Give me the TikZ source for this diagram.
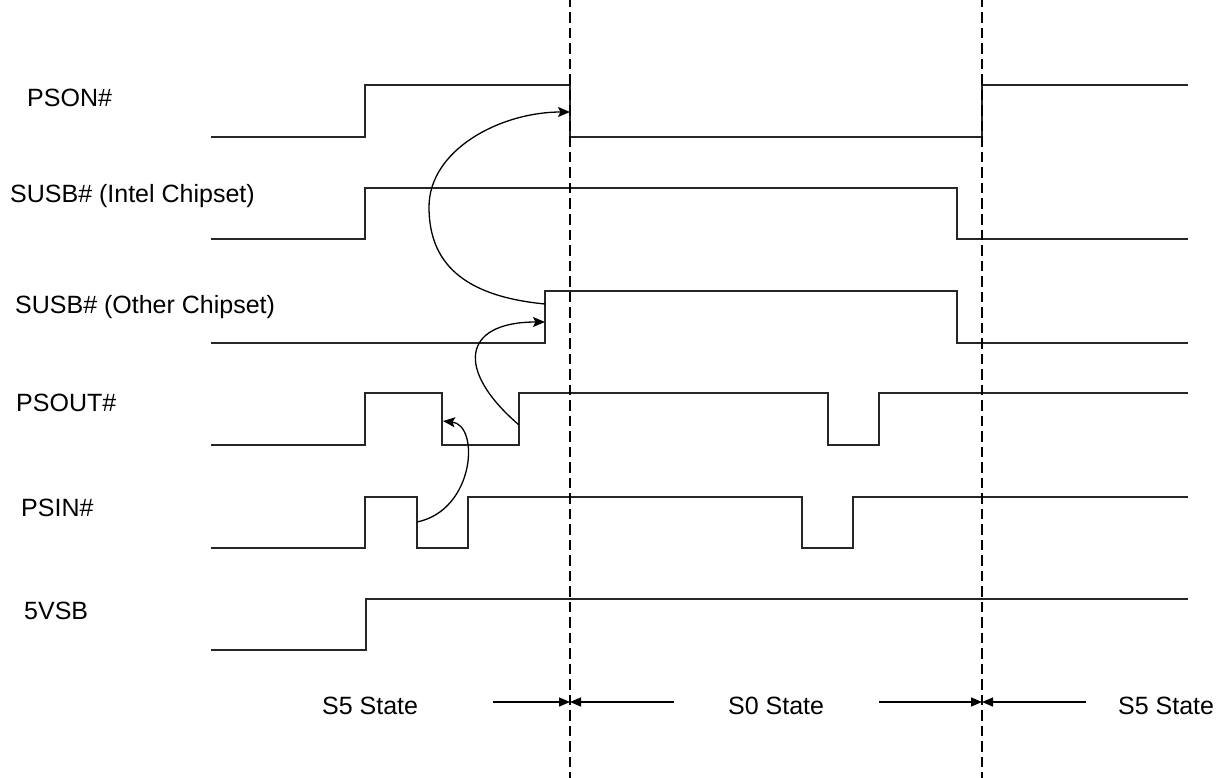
\documentclass[tikz,border=0pt]{standalone}
\usepackage{fontspec}
\setmainfont{Liberation Sans}
\usetikzlibrary{arrows.meta}
\tikzset{
  sig/.style={line width=1.4pt, black!85, line join=miter},
  divider/.style={line width=2.3pt, black, dash pattern=on 10.5pt off 5pt, dash phase=3pt},
  cause/.style={line width=1.3pt, black, -{Stealth[length=12pt,width=10pt,inset=2.5pt]}},
  span/.style={line width=1.3pt, black, -{Triangle[length=11pt,width=9pt]}},
  lbl/.style={anchor=base west, inner sep=0pt, font=\fontsize{25}{29}\selectfont}
}
\begin{document}
\begin{tikzpicture}[x=1pt,y=-1pt]
\useasboundingbox (0,0) rectangle (1228,778);
% signal names
\node[lbl] (nPSON) at (27,107) {PSON\#};
\node[lbl] (nSUSBi) at (10,202.5) {SUSB\# (Intel Chipset)};
\node[lbl] (nSUSBo) at (15,313) {SUSB\# (Other Chipset)};
\node[lbl] (nPSOUT) at (16,411) {PSOUT\#};
\node[lbl] (nPSIN) at (21,516) {PSIN\#};
\node[lbl] (n5VSB) at (24,619) {5VSB};
% waveforms
\draw[sig] (211,137) -- (365,137) -- (365,85) -- (570,85) -- (570,137) -- (982,137) -- (982,85) -- (1188,85);
\draw[sig] (211,239) -- (365,239) -- (365,188) -- (957,188) -- (957,239) -- (1188,239);
\draw[sig] (211,343) -- (545,343) -- (545,291) -- (957,291) -- (957,343) -- (1188,343);
\draw[sig] (211,445) -- (365,445) -- (365,393) -- (442,393) -- (442,445) -- (519,445) -- (519,393) -- (828,393) -- (828,445) -- (879,445) -- (879,393) -- (1188,393);
\draw[sig] (211,548) -- (365,548) -- (365,497) -- (417,497) -- (417,548) -- (468,548) -- (468,497) -- (802,497) -- (802,548) -- (853,548) -- (853,497) -- (1188,497);
\draw[sig] (211,650) -- (366,650) -- (366,599) -- (1188,599);
% state dividers
\coordinate (d1top) at (570,0);
\coordinate (d1bot) at (570,778);
\coordinate (d2top) at (982,0);
\coordinate (d2bot) at (982,778);
\draw[divider] (d1top) -- (d1bot);
\draw[divider] (d2top) -- (d2bot);
% causality arrows
\coordinate (psinFall) at (417,522);
\coordinate (psoutFall) at (443,421);
\coordinate (psoutRise) at (519,425);
\coordinate (susboRiseA) at (545,322);
\coordinate (susboRiseB) at (545,304);
\coordinate (psonFall) at (570,112);
\draw[cause] (psinFall) .. controls (475,510) and (480,425) .. (psoutFall);
\draw[cause] (psoutRise) .. controls (455,370) and (462,322) .. (susboRiseA);
\draw[cause] (susboRiseB) .. controls (462,296) and (429,262) .. (429,207) .. controls (429,150) and (500,112) .. (psonFall);
% states
\node[lbl] (s5a) at (322,714) {S5 State};
\node[lbl] (s0) at (728,714) {S0 State};
\node[lbl] (s5b) at (1118,714) {S5 State};
\coordinate (a1) at (493,702);
\coordinate (a2) at (674,702);
\coordinate (a3) at (879,702);
\coordinate (a4) at (1086,702);
\coordinate (m1) at (570,702);
\coordinate (m2) at (982,702);
\draw[span] (a1) -- (m1);
\draw[span] (a2) -- (m1);
\draw[span] (a3) -- (m2);
\draw[span] (a4) -- (m2);
\end{tikzpicture}
\end{document}
